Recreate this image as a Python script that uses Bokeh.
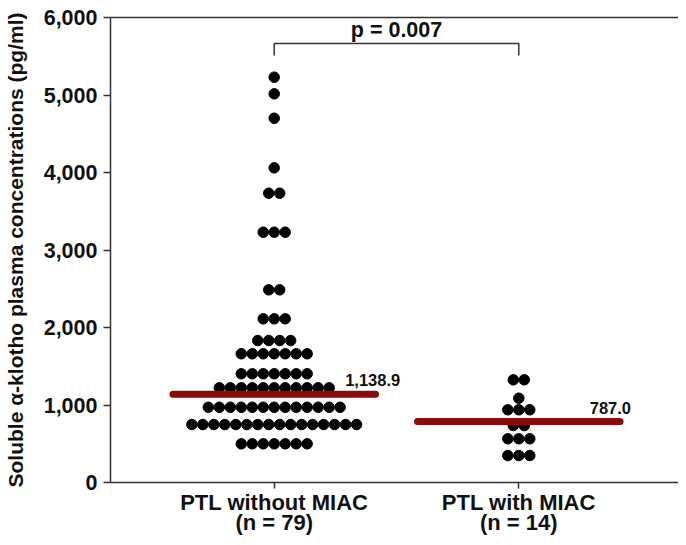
from bokeh.plotting import figure
from bokeh.models import Range1d, FixedTicker, NumeralTickFormatter, LinearAxis
from bokeh.core.properties import value
from bokeh.embed import file_html
from bokeh.resources import INLINE

# ---------------- data ----------------
groups = ["PTL without MIAC", "PTL with MIAC"]
group_n = ["(n = 79)", "(n = 14)"]
group_x = [1, 2]

without_miac = [
    5230, 5015, 4700, 4060,
    3733, 3733,
    3230, 3230, 3230,
    2486, 2486,
    2112, 2112, 2112,
    1832, 1832, 1832, 1832,
    1661, 1661, 1661, 1661, 1661, 1661, 1661,
    1403, 1403, 1403, 1403, 1403, 1403, 1403,
    1222, 1222, 1222, 1222, 1222, 1222, 1222, 1222, 1222, 1222, 1222,
    971, 971, 971, 971, 971, 971, 971, 971, 971, 971, 971, 971, 971,
    748, 748, 748, 748, 748, 748, 748, 748, 748, 748, 748, 748, 748, 748, 748, 748,
    499, 499, 499, 499, 499, 499, 499,
]
with_miac = [
    1325, 1325,
    1088,
    938, 938, 938,
    735, 735,
    564, 564, 564,
    348, 348, 348,
]
medians = [1138.9, 787.0]
median_labels = ["1,138.9", "787.0"]
p_value_text = "p = 0.007"
bracket_top = 5665
bracket_leg = 5510
p_text_y = 5845
y_ticks = [0, 1000, 2000, 3000, 4000, 5000, 6000]

FONT = "Liberation Sans"
STEP = 0.0449          # horizontal spacing of dots within a row (x units)
HALF_LINE = 0.414      # half length of median bar (x units)
LABEL_DX = 0.29
INK = "#111111"
AXIS = "#333333"
RED = "#8b0a0a"


def swarm(center, vals):
    counts = {}
    for v in vals:
        counts[v] = counts.get(v, 0) + 1
    xs, ys = [], []
    for v, n in counts.items():
        for i in range(n):
            xs.append(center + (i - (n - 1) / 2) * STEP)
            ys.append(v)
    return xs, ys


p = figure(width=678, height=537, output_backend="svg", toolbar_location=None,
           x_range=Range1d(0.3306, 2.653), y_range=Range1d(0, 6000),
           min_border_left=109, min_border_right=0, min_border_top=17,
           min_border_bottom=55)
p.outline_line_color = None
p.xgrid.visible = False
p.ygrid.visible = False
p.background_fill_color = "white"
p.border_fill_color = "white"

xax = p.below[0]
yax = p.left[0]

# top border line
top = LinearAxis(major_label_text_font_size="0px", major_tick_out=0, major_tick_in=0,
                 minor_tick_out=0, minor_tick_in=0, major_label_standoff=0,
                 axis_line_color=AXIS, axis_line_width=1.5,
                 major_tick_line_color=None, minor_tick_line_color=None)
top.ticker = FixedTicker(ticks=[])
p.add_layout(top, "above")

# dots
for cx, vals in zip(group_x, [without_miac, with_miac]):
    xs, ys = swarm(cx, vals)
    p.scatter(xs, ys, size=10.5, color="black", line_color="black")

# median bars
p.segment(x0=[c - HALF_LINE for c in group_x], x1=[c + HALF_LINE for c in group_x],
          y0=medians, y1=medians, line_width=7, line_cap="round", line_color=RED)
p.text(x=[c + LABEL_DX for c in group_x], y=medians, text=median_labels,
       text_font=value(FONT), text_font_style="bold", text_font_size="16.5px",
       text_baseline="middle", text_align="left", y_offset=-14, text_color=INK)

# significance bracket
p.line(x=[group_x[0], group_x[0], group_x[1], group_x[1]],
       y=[bracket_leg, bracket_top, bracket_top, bracket_leg],
       line_color=AXIS, line_width=1.5)
p.text(x=[(group_x[0] + group_x[1]) / 2], y=[p_text_y], text=[p_value_text],
       text_font=value(FONT), text_font_style="bold", text_font_size="21.5px",
       text_baseline="middle", text_align="center", text_color=INK)

# y axis
yax.ticker = FixedTicker(ticks=y_ticks)
yax.formatter = NumeralTickFormatter(format="0,0")
yax.axis_label = "Soluble \u03b1-klotho plasma concentrations (pg/ml)"
yax.axis_label_text_font = FONT
yax.axis_label_text_font_style = "bold"
yax.axis_label_text_font_size = "21px"
yax.axis_label_text_color = INK
yax.axis_label_standoff = 14
yax.major_label_text_font = FONT
yax.major_label_text_font_style = "bold"
yax.major_label_text_font_size = "21.5px"
yax.major_label_text_color = INK
yax.major_tick_in = 0
yax.major_tick_out = 7
yax.minor_tick_line_color = None
yax.axis_line_color = AXIS
yax.axis_line_width = 1.5
yax.major_tick_line_color = AXIS
yax.major_tick_line_width = 1.5
yax.major_label_standoff = 6

# x axis
xax.ticker = FixedTicker(ticks=group_x)
xax.major_label_overrides = {gx: f"{g}\n{n}" for gx, g, n in zip(group_x, groups, group_n)}
xax.major_label_text_font = FONT
xax.major_label_text_font_style = "bold"
xax.major_label_text_font_size = "22px"
xax.major_label_text_color = INK
xax.major_label_text_line_height = 0.8
xax.major_tick_in = 0
xax.major_tick_out = 6
xax.minor_tick_line_color = None
xax.axis_line_color = AXIS
xax.axis_line_width = 1.5
xax.major_tick_line_color = AXIS
xax.major_tick_line_width = 1.5
xax.major_label_standoff = 1

open("out.html", "w").write(file_html(p, INLINE))
